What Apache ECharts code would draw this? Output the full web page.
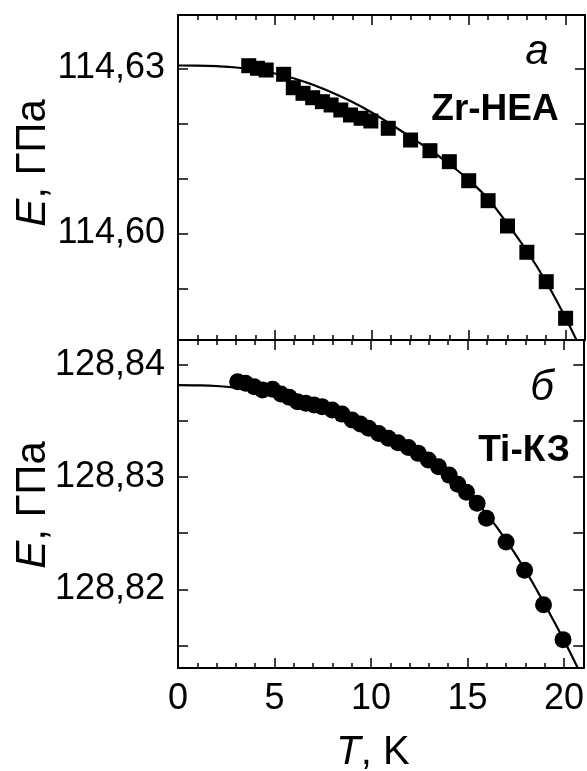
<!DOCTYPE html>
<html>
<head>
<meta charset="utf-8">
<script src="https://cdn.jsdelivr.net/npm/echarts@6/dist/echarts.min.js"></script>
<style>
html,body{margin:0;padding:0;background:#fff;}
#chart{width:587px;height:771px;}
</style>
</head>
<body>
<div id="chart"></div>
<script>
// ---- Data ----
// Panel a: Zr-HEA, squares
const T_zr = [3.65, 4.1, 4.55, 5.45, 5.95, 6.45, 6.95, 7.45, 7.9, 8.4, 8.9, 9.45, 9.95, 10.85, 12, 13, 14, 15, 16, 17, 18, 19, 20];
const E_zr = [114.63047, 114.63000, 114.62969, 114.62891, 114.62647, 114.62545, 114.62465, 114.62393, 114.62333, 114.62242, 114.62151, 114.62091, 114.62042, 114.61909, 114.61696, 114.61502, 114.61302, 114.60956, 114.60593, 114.60133, 114.59655, 114.59120, 114.58455];
// Fit curve, panel a
const T_fit = [0, 1, 2, 3, 4, 5, 6, 7, 8, 9, 10, 11, 12, 13, 14, 15, 16, 17, 18, 19, 20, 21];
const E_zr_fit = [114.63051, 114.63049, 114.63038, 114.63015, 114.62969, 114.62905, 114.62815, 114.62696, 114.62551, 114.62387, 114.62196, 114.61978, 114.61751, 114.61515, 114.61260, 114.60969, 114.60624, 114.60169, 114.59678, 114.59115, 114.58460, 114.57733];
// Panel б: Ti-КЗ, circles
const T_ti = [3.09, 3.5, 3.95, 4.38, 4.9, 5.33, 5.76, 6.19, 6.62, 7.05, 7.47, 7.99, 8.5, 9.02, 9.45, 9.88, 10.4, 10.9, 11.4, 11.94, 12.45, 12.97, 13.5, 14.05, 14.5, 14.95, 15.5, 15.98, 17.0, 17.96, 18.94, 19.95];
const E_ti = [128.83851, 128.83837, 128.83806, 128.83777, 128.83783, 128.83741, 128.83712, 128.83672, 128.83658, 128.83643, 128.83628, 128.83598, 128.83562, 128.83509, 128.83473, 128.83435, 128.83390, 128.83346, 128.83306, 128.83265, 128.83212, 128.83152, 128.83092, 128.83018, 128.82937, 128.82866, 128.82768, 128.82634, 128.82422, 128.82170, 128.81863, 128.81551];
// Fit curve, panel б
const E_ti_fit = [128.83821, 128.83819, 128.83813, 128.83799, 128.83777, 128.83741, 128.83701, 128.83656, 128.83598, 128.83536, 128.83446, 128.83348, 128.83250, 128.83143, 128.83018, 128.82866, 128.82670, 128.82438, 128.82170, 128.81866, 128.81545, 128.81196];

// Ticks / labels
const xMajor = [0, 5, 10, 15, 20];
const xMinor = [1, 2, 3, 4, 6, 7, 8, 9, 11, 12, 13, 14, 16, 17, 18, 19];
const yTicksA = [114.59, 114.60, 114.61, 114.62, 114.63];
const yLabelsA = [114.60, 114.63];
const yTicksB = [128.815, 128.82, 128.825, 128.83, 128.835, 128.84];
const yLabelsB = [128.82, 128.83, 128.84];

const zip = (a, b) => a.map((v, i) => [v, b[i]]);
const FONT = "'Liberation Sans', Arial, sans-serif";
const fmt = v => v.toFixed(2).replace('.', ',');

const grids = [
  {left: 178, top: 15, width: 407, height: 325},
  {left: 178, top: 340, width: 407, height: 328}
];

function xAxesFor(gi, showLabels) {
  const base = {type: 'value', min: 0, max: 21, gridIndex: gi, splitLine: {show: false}};
  return [
    Object.assign({}, base, {
      position: 'bottom',
      axisLine: {show: true, onZero: false, lineStyle: {color: '#000', width: 2}},
      axisTick: {show: true, inside: true, length: 10, customValues: xMajor, lineStyle: {color: '#000', width: 1.5}},
      axisLabel: {show: showLabels, customValues: xMajor, margin: 13, color: '#000', fontSize: 36, fontFamily: FONT}
    }),
    Object.assign({}, base, {
      position: 'bottom',
      axisLine: {show: false, onZero: false},
      axisTick: {show: true, inside: true, length: 5, customValues: xMinor, lineStyle: {color: '#000', width: 1.5}},
      axisLabel: {show: false}
    }),
    Object.assign({}, base, {
      position: 'top',
      axisLine: {show: true, onZero: false, lineStyle: {color: '#000', width: 2}},
      axisTick: {show: true, inside: true, length: 10, customValues: xMajor, lineStyle: {color: '#000', width: 1.5}},
      axisLabel: {show: false}
    }),
    Object.assign({}, base, {
      position: 'top',
      axisLine: {show: false, onZero: false},
      axisTick: {show: true, inside: true, length: 5, customValues: xMinor, lineStyle: {color: '#000', width: 1.5}},
      axisLabel: {show: false}
    })
  ];
}

function yAxesFor(gi, min, max, ticks, labels) {
  const base = {type: 'value', min: min, max: max, gridIndex: gi, splitLine: {show: false}, scale: true};
  return [
    Object.assign({}, base, {
      position: 'left',
      axisLine: {show: true, onZero: false, lineStyle: {color: '#000', width: 2}},
      axisTick: {show: true, inside: true, length: 10, customValues: ticks, lineStyle: {color: '#000', width: 1.5}},
      axisLabel: {show: true, customValues: labels, margin: 13, color: '#000', fontSize: 36, fontFamily: FONT, formatter: fmt}
    }),
    Object.assign({}, base, {
      position: 'right',
      axisLine: {show: true, onZero: false, lineStyle: {color: '#000', width: 2}},
      axisTick: {show: true, inside: true, length: 10, customValues: ticks, lineStyle: {color: '#000', width: 1.5}},
      axisLabel: {show: false}
    })
  ];
}

const option = {
  animation: false,
  backgroundColor: '#fff',
  grid: grids,
  xAxis: [].concat(xAxesFor(0, false), xAxesFor(1, true)),
  yAxis: [].concat(
    yAxesFor(0, 114.58060, 114.63969, yTicksA, yLabelsA),
    yAxesFor(1, 128.81298, 128.84223, yTicksB, yLabelsB)
  ),
  series: [
    {type: 'line', xAxisIndex: 0, yAxisIndex: 0, data: zip(T_fit, E_zr_fit), smooth: 0.4, showSymbol: false, symbol: 'none',
     lineStyle: {color: '#000', width: 2.2}, z: 3},
    {type: 'scatter', xAxisIndex: 0, yAxisIndex: 0, data: zip(T_zr, E_zr), symbol: 'rect', symbolSize: 15,
     itemStyle: {color: '#000', opacity: 1}, z: 4},
    {type: 'line', xAxisIndex: 4, yAxisIndex: 2, data: zip(T_fit, E_ti_fit), smooth: 0.4, showSymbol: false, symbol: 'none',
     lineStyle: {color: '#000', width: 2.2}, z: 3},
    {type: 'scatter', xAxisIndex: 4, yAxisIndex: 2, data: zip(T_ti, E_ti), symbol: 'circle', symbolSize: 17,
     itemStyle: {color: '#000', opacity: 1}, z: 4}
  ],
  graphic: [
    {type: 'text', x: 33, y: 163, rotation: Math.PI / 2,
     style: {text: '{i|E}, ГПа', rich: {i: {fontStyle: 'italic', fontSize: 42, fontFamily: FONT, fill: '#000'}},
             fontSize: 42, fontFamily: FONT, fill: '#000', align: 'center', verticalAlign: 'middle'}},
    {type: 'text', x: 33, y: 505, rotation: Math.PI / 2,
     style: {text: '{i|E}, ГПа', rich: {i: {fontStyle: 'italic', fontSize: 42, fontFamily: FONT, fill: '#000'}},
             fontSize: 42, fontFamily: FONT, fill: '#000', align: 'center', verticalAlign: 'middle'}},
    {type: 'text', x: 373, y: 753,
     style: {text: '{i|T}, K', rich: {i: {fontStyle: 'italic', fontSize: 40, fontFamily: FONT, fill: '#000'}},
             fontSize: 40, fontFamily: FONT, fill: '#000', align: 'center', verticalAlign: 'middle'}},
    {type: 'text', x: 537, y: 52,
     style: {text: 'a', fontStyle: 'italic', fontSize: 42, fontFamily: FONT, fill: '#000', align: 'center', verticalAlign: 'middle'}},
    {type: 'text', x: 495, y: 110,
     style: {text: 'Zr-HEA', fontWeight: 'bold', fontSize: 37, fontFamily: FONT, fill: '#000', align: 'center', verticalAlign: 'middle'}},
    {type: 'text', x: 542, y: 388,
     style: {text: 'б', fontStyle: 'italic', fontSize: 42, fontFamily: FONT, fill: '#000', align: 'center', verticalAlign: 'middle'}},
    {type: 'text', x: 524, y: 451,
     style: {text: 'Ti-КЗ', fontWeight: 'bold', fontSize: 37, fontFamily: FONT, fill: '#000', align: 'center', verticalAlign: 'middle'}}
  ]
};

const chart = echarts.init(document.getElementById('chart'), null, {renderer: 'canvas'});
chart.setOption(option);
</script>
</body>
</html>
